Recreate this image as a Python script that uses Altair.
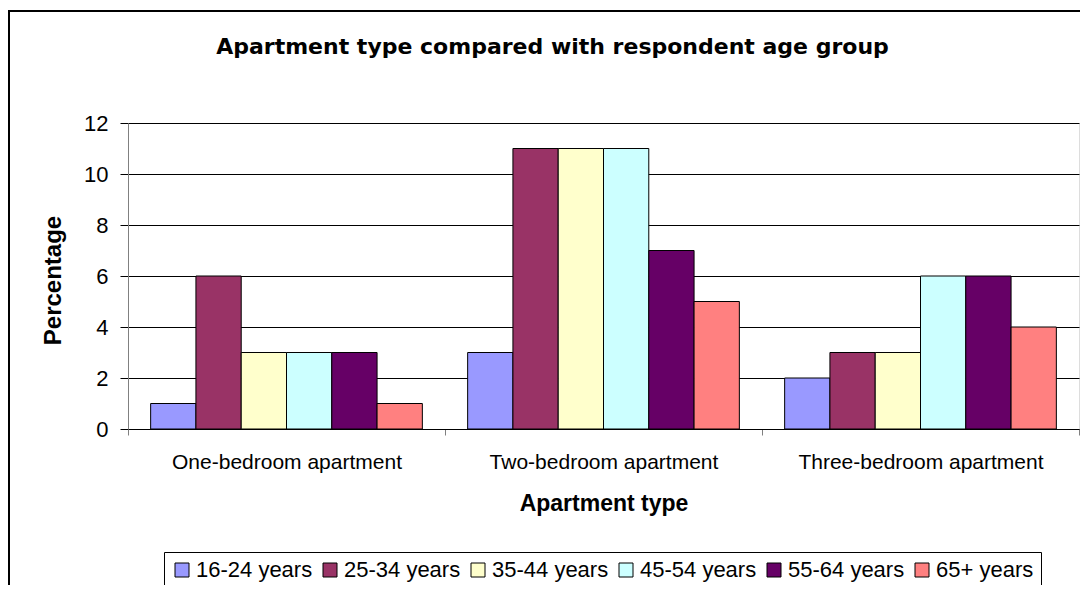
import altair as alt
import pandas as pd

categories = ["One-bedroom apartment", "Two-bedroom apartment", "Three-bedroom apartment"]
age_groups = ["16-24 years", "25-34 years", "35-44 years", "45-54 years", "55-64 years", "65+ years"]
one_bed = [1, 6, 3, 3, 3, 1]
two_bed = [3, 11, 11, 11, 7, 5]
three_bed = [2, 3, 3, 6, 6, 4]
colors = ["#9999FF", "#993366", "#FFFFCC", "#CCFFFF", "#660066", "#FF8080"]
y_ticks = [0, 2, 4, 6, 8, 10, 12]

rows = []
for cat, vals in zip(categories, [one_bed, two_bed, three_bed]):
    for g, v in zip(age_groups, vals):
        rows.append({"type": cat, "age": g, "pct": v})
df = pd.DataFrame(rows)

W, H = 951, 306
FONT = "Liberation Sans"

bars = alt.Chart(df).mark_bar(stroke="black", strokeWidth=1, opacity=1).encode(
    x=alt.X(
        "type:N", sort=categories,
        scale=alt.Scale(paddingInner=0, paddingOuter=0),
        axis=alt.Axis(
            title="Apartment type", labelAngle=0, tickBand="extent", ticks=True,
            tickSize=6, tickColor="#808080", domainColor="black", domainWidth=1,
            labelFontSize=21, labelFont=FONT, labelColor="black", labelLimit=0,
            labelBaseline="alphabetic", labelPadding=33,
            titleFontSize=23, titleFont=FONT, titleFontWeight="bold", titleColor="black",
            titleY=81, titleBaseline="alphabetic", grid=False,
        ),
    ),
    xOffset=alt.XOffset("age:N", sort=age_groups,
                        scale=alt.Scale(paddingInner=0, paddingOuter=0.5)),
    y=alt.Y(
        "pct:Q", scale=alt.Scale(domain=[0, 12], nice=False),
        axis=alt.Axis(
            values=y_ticks, title="Percentage", grid=True, gridColor="black", gridWidth=1,
            gridOpacity=1, tickSize=8, tickColor="black", domainColor="#808080",
            labelFontSize=22, labelFont=FONT, labelColor="black", labelPadding=12,
            titleFontSize=24, titleFont=FONT, titleFontWeight="bold", titleColor="black",
            titleX=-68, titleY=157, titleAngle=270, titleAlign="center",
            titleBaseline="alphabetic",
        ),
    ),
    color=alt.Color(
        "age:N", sort=age_groups,
        scale=alt.Scale(domain=age_groups, range=colors),
        legend=alt.Legend(
            title=None, orient="none", legendX=36, legendY=429, direction="horizontal",
            columns=6, strokeColor="black", fillColor="white", padding=7,
            symbolType="square", symbolSize=196, symbolStrokeColor="black",
            symbolStrokeWidth=1, symbolOpacity=1, labelFontSize=22, labelFont=FONT,
            labelColor="black", labelOffset=3, columnPadding=6, labelLimit=0,
        ),
    ),
)

border = alt.Chart(alt.Data(values=[{"b": 1}])).mark_rect(
    filled=False, stroke="black", strokeWidth=2
).encode(
    x=alt.value(-119), x2=alt.value(1000), y=alt.value(-112), y2=alt.value(600)
)

chart = alt.layer(bars, border).properties(
    width=W, height=H,
    title=alt.TitleParams(
        text="Apartment type compared with respondent age group",
        anchor="middle", frame="group", dx=-51, offset=0, dy=66,
        fontSize=22, font="DejaVu Sans", fontWeight="bold", color="black",
        baseline="alphabetic",
    ),
    autosize="none",
    padding={"left": 120, "top": 115, "right": 1, "bottom": 156},
).configure_view(stroke=None).configure(background="white")

chart.save("out.html", embed_options={"renderer": "svg", "actions": False})
